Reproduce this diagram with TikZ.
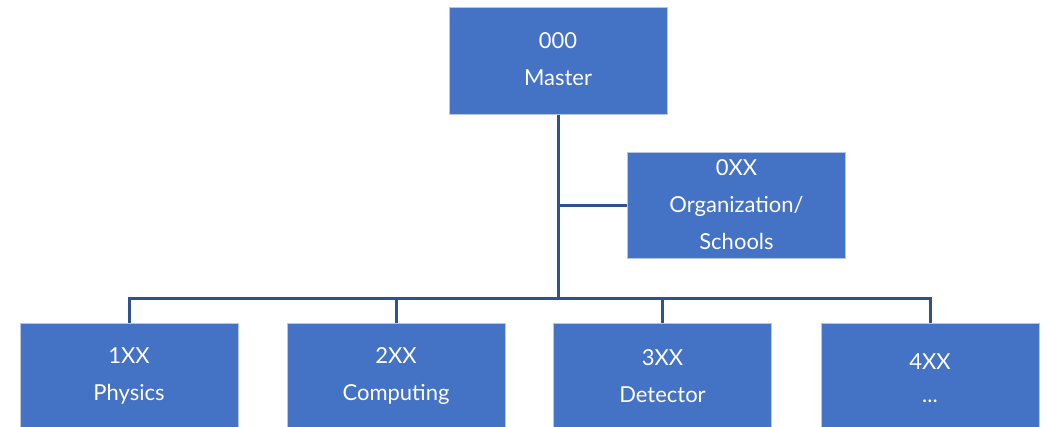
\documentclass[tikz,border=0pt]{standalone}
\usepackage{fontspec}
\setmainfont{Lato}
\definecolor{boxblue}{HTML}{4472C4}
\definecolor{edgeblue}{HTML}{B4C7E7}
\definecolor{linkblue}{HTML}{2F528F}
\begin{document}
\begin{tikzpicture}[x=1pt,y=-1pt,
  unit/.style={draw=edgeblue,line width=0.8pt,fill=boxblue,text=white,
    minimum width=218pt,align=center,font=\fontsize{22}{37}\selectfont,inner sep=0pt},
  label/.style={text=white,align=center,font=\fontsize{22}{37}\selectfont,inner sep=0pt},
  link/.style={draw=linkblue,line width=3pt}]
\useasboundingbox (0,0) rectangle (1048,426);
\clip (0,0) rectangle (1048,426);
\node[unit,minimum height=107pt] (master) at (558,61) {};
\node[label] (mastert) at (558,59) {000\\Master};
\node[unit,minimum height=106pt] (org) at (736.5,205) {0XX\\Organization/\\Schools};
\node[unit,minimum height=120pt] (phys) at (129,383) {};
\node[unit,minimum height=120pt] (comp) at (396,383) {};
\node[unit,minimum height=120pt] (det) at (662.5,383) {};
\node[unit,minimum height=120pt] (dots) at (930,383) {};
\node[label] (physt) at (129,376) {1XX\\Physics};
\node[label] (compt) at (396,376) {2XX\\Computing};
\node[label] (dett) at (662.5,376) {3XX\\Detector};
\node[label,font=\fontsize{22}{33}\selectfont] (dotst) at (930,378) {4XX\\...};
\coordinate (hub) at (558,298);
\coordinate (side) at (558,205);
\draw[link] (master.south) -- (hub);
\draw[link] (side) -- (org.west);
\draw[link] (phys.north) |- (hub);
\draw[link] (comp.north) |- (hub);
\draw[link] (det.north) |- (hub);
\draw[link] (dots.north) |- (hub);
\end{tikzpicture}
\end{document}
